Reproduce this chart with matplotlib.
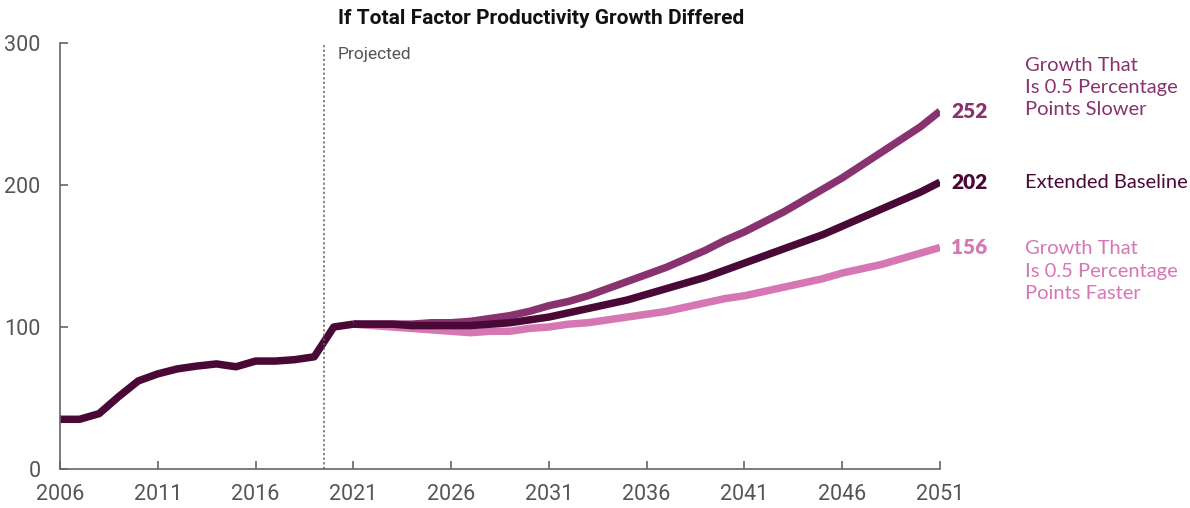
import numpy as np
import matplotlib.pyplot as plt

# historical values (index), 2006-2021
hist_years = list(range(2006, 2022))
hist_vals = [35, 35, 39, 51, 62, 67, 70.5, 72.5, 74, 72, 76, 76, 77, 79, 100, 102]

# projections, 2021-2051
proj_years = list(range(2021, 2052))
baseline = [102, 102, 102, 101, 101, 101, 101, 102, 103, 105, 107, 110, 113, 116, 119, 123,
            127, 131, 135, 140, 145, 150, 155, 160, 165, 171, 177, 183, 189, 195, 202]
slower = [102, 102, 102, 102, 103, 103, 104, 106, 108, 111, 115, 118, 122, 127, 132, 137,
          142, 148, 154, 161, 167, 174, 181, 189, 197, 205, 214, 223, 232, 241, 252]
faster = [102, 101, 100, 99, 98, 97, 96, 97, 97, 99, 100, 102, 103, 105, 107, 109,
          111, 114, 117, 120, 122, 125, 128, 131, 134, 138, 141, 144, 148, 152, 156]

c_base = '#4a0836'
c_slow = '#883370'
c_fast = '#d577b3'
grey = '#555555'
narrow = ['Roboto', 'DejaVu Sans']
side = ['Lato', 'DejaVu Sans']

fig = plt.figure(figsize=(11.9, 5.08), dpi=100)
ax = fig.add_axes([60/1190, 1-469/508, 880/1190, 426/508])

ax.plot(proj_years, faster, color=c_fast, lw=5.4, solid_capstyle='butt')
ax.plot(proj_years, slower, color=c_slow, lw=5.4, solid_capstyle='butt')
ax.plot(proj_years, baseline, color=c_base, lw=5.4, solid_capstyle='butt')
ax.plot(hist_years, hist_vals, color=c_base, lw=5.4, solid_capstyle='butt')

ax.axvline(2019.5, color='#666666', lw=1.1, ls=(0, (1.5, 1.5)))
ax.text(2019.5 + 0.7, 292, 'Projected', color=grey, fontsize=12.5, family=narrow,
        va='center', ha='left')

ax.set_xlim(2006, 2051)
ax.set_ylim(0, 300)
ax.set_xticks(range(2006, 2052, 5))
ax.set_yticks([0, 100, 200, 300])
for s in ['top', 'right']:
    ax.spines[s].set_visible(False)
for s in ['left', 'bottom']:
    ax.spines[s].set_color('#666666')
    ax.spines[s].set_linewidth(1.2)
ax.tick_params(axis='both', direction='in', length=6, width=1.2, color='#666666',
               labelcolor=grey, labelsize=15.5)
ax.tick_params(axis='y', pad=14)
ax.tick_params(axis='x', pad=11)
for lab in ax.get_xticklabels() + ax.get_yticklabels():
    lab.set_family(narrow)

# end-of-line labels
ends = [(slower[-1], c_slow, 'Growth That\nIs 0.5 Percentage\nPoints Slower', 17),
        (baseline[-1], c_base, 'Extended Baseline', 0),
        (faster[-1], c_fast, 'Growth That\nIs 0.5 Percentage\nPoints Faster', -17)]
for val, col, txt, off in ends:
    ax.annotate(str(val), xy=(2051, val), xytext=(8, 0), textcoords='offset points',
                color=col, fontsize=15, fontweight='heavy', family=side,
                va='center', ha='left', annotation_clip=False)
    ax.annotate(txt, xy=(2051, val), xytext=(61, off), textcoords='offset points',
                color=col, fontsize=14.5, family=side,
                va='center', ha='left', linespacing=1.38, annotation_clip=False)

fig.text(541/1190, 1-18/508, 'If Total Factor Productivity Growth Differed',
         fontsize=15, fontweight='bold', family=narrow, ha='center', va='center',
         color='#111111')

fig.savefig('out.png', dpi=100)
